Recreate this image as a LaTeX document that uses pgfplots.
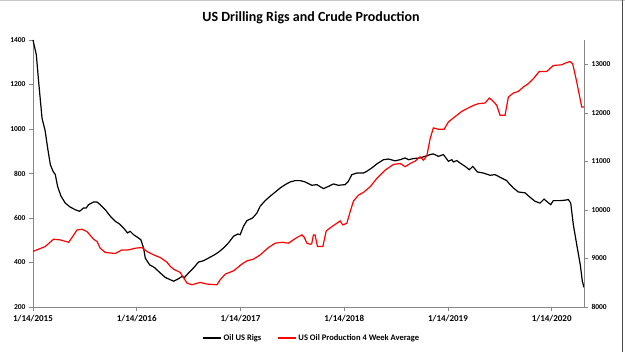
\documentclass[border=0pt]{standalone}
\usepackage{fontspec}
\setmainfont{Carlito}
\usepackage{pgfplots}
\pgfplotsset{compat=1.18}
\definecolor{axisgray}{HTML}{868686}
\definecolor{prodred}{HTML}{FF0000}

\pgfplotsset{
  base/.style={
    scale only axis, width=551pt, height=267pt,
    at={(33pt,45pt)}, anchor=south west,
    xmin=0, xmax=5.311,
    axis line style={axisgray, line width=0.6pt},
    tick style={axisgray, line width=0.6pt},
    tick align=outside, major tick length=4pt,
    /pgf/number format/assume math mode=true,
    /pgf/number format/1000 sep={},
    scaled y ticks=false,
    clip=false,
  }
}

\begin{document}
\begin{tikzpicture}[x=1pt,y=1pt]
\path[use as bounding box] (0,0) rectangle (625,352);
\fill[white] (0,0) rectangle (625,352);
\draw[gray!45, line width=0.8pt] (0,351.6) -- (625,351.6);
\draw[black!70, line width=1.6pt] (622.5,0) -- (622.5,352);
\node[font=\bfseries\fontsize{14}{16}\selectfont] at (311,334) {US Drilling Rigs and Crude Production};

% Oil rig count (left axis)
\begin{axis}[base,
  axis x line*=bottom, axis y line*=left,
  ymin=200, ymax=1400, ytick={200,400,...,1400},
  xtick={0,1,2,3,4,5},
  xticklabels={1/14/2015,1/14/2016,1/14/2017,1/14/2018,1/14/2019,1/14/2020},
  x tick label style={font=\bfseries\fontsize{9}{10}\selectfont, yshift=-1pt},
  y tick label style={font=\bfseries\fontsize{7.5}{9}\selectfont},
]
\addplot[black, line width=1.2pt] table[x=t, y=v] {
t v
0.000 1400
0.032 1334
0.054 1214
0.087 1049
0.118 990
0.141 915
0.167 840
0.193 810
0.215 795
0.237 742
0.270 698
0.311 667
0.359 649
0.408 637
0.449 630
0.487 645
0.513 645
0.536 660
0.584 672
0.617 672
0.648 660
0.697 637
0.745 608
0.793 585
0.834 573
0.873 555
0.911 533
0.937 540
0.969 525
1.008 513
1.040 502
1.066 465
1.082 420
1.123 390
1.169 378
1.226 353
1.275 333
1.316 324
1.355 316
1.403 327
1.435 337
1.461 333
1.499 353
1.547 375
1.595 402
1.644 408
1.692 420
1.740 432
1.788 446
1.836 465
1.884 488
1.933 518
1.975 528
1.997 525
2.029 563
2.062 588
2.116 600
2.158 622
2.190 653
2.238 678
2.286 698
2.334 716
2.383 735
2.431 750
2.479 762
2.527 768
2.575 768
2.624 762
2.688 747
2.736 750
2.800 732
2.848 742
2.896 753
2.944 747
3.009 750
3.040 765
3.073 795
3.121 802
3.185 802
3.218 810
3.266 825
3.314 843
3.378 862
3.426 865
3.490 857
3.539 862
3.587 870
3.619 862
3.667 867
3.731 870
3.779 877
3.828 885
3.859 888
3.908 877
3.956 885
4.004 855
4.037 862
4.052 852
4.085 858
4.116 847
4.165 832
4.206 817
4.239 832
4.283 807
4.341 802
4.406 792
4.454 795
4.502 783
4.566 768
4.598 750
4.630 735
4.678 717
4.743 713
4.791 693
4.839 675
4.887 667
4.926 685
4.958 672
4.990 660
5.015 678
5.080 678
5.128 680
5.160 683
5.183 667
5.208 570
5.241 480
5.275 390
5.295 316
5.311 288
};
\end{axis}

% Crude production, 4-week average (right axis)
\begin{axis}[base,
  axis x line=none, axis y line*=right,
  ymin=8000, ymax=13500, ytick={8000,9000,...,13000},
  y tick label style={font=\bfseries\fontsize{7.5}{9}\selectfont},
  legend columns=2,
  legend style={at={(0.506,-0.116)}, anchor=center, draw=none, fill=none,
    font=\bfseries\fontsize{8.5}{10}\selectfont,
    /tikz/every even column/.append style={column sep=14pt},
    inner sep=0pt},
  legend image code/.code={\draw[#1] (0pt,0pt) -- (18pt,0pt);},
]
\addlegendimage{black, line width=1.2pt}
\addlegendentry{Oil US Rigs}
\addplot[prodred, line width=1.2pt] table[x=t, y=v] {
t v
0.000 9144
0.054 9191
0.118 9246
0.198 9396
0.263 9382
0.343 9334
0.376 9431
0.424 9587
0.472 9601
0.520 9554
0.584 9396
0.617 9349
0.648 9211
0.697 9123
0.793 9102
0.857 9176
0.921 9176
0.986 9211
1.050 9225
1.098 9144
1.162 9074
1.226 9020
1.291 8924
1.323 8836
1.355 8780
1.419 8712
1.484 8493
1.532 8458
1.612 8507
1.676 8472
1.773 8458
1.804 8561
1.853 8677
1.933 8745
2.013 8883
2.062 8950
2.125 8985
2.190 9074
2.270 9225
2.334 9314
2.399 9334
2.462 9314
2.543 9431
2.592 9484
2.614 9437
2.640 9314
2.672 9293
2.686 9300
2.703 9484
2.719 9484
2.742 9246
2.794 9246
2.826 9567
2.881 9656
2.961 9772
2.986 9690
3.025 9725
3.057 9964
3.089 10182
3.137 10305
3.185 10361
3.250 10478
3.314 10648
3.394 10819
3.474 10936
3.539 10956
3.587 10889
3.635 10956
3.683 11004
3.731 11094
3.763 11024
3.796 11114
3.828 11470
3.859 11689
3.908 11661
3.963 11661
4.004 11812
4.052 11894
4.133 12030
4.181 12085
4.245 12153
4.293 12188
4.357 12202
4.399 12305
4.437 12235
4.470 12153
4.502 11948
4.550 11948
4.582 12326
4.630 12408
4.678 12441
4.726 12531
4.774 12599
4.823 12702
4.880 12852
4.952 12852
5.015 12975
5.096 12989
5.138 13030
5.176 13057
5.202 13009
5.241 12633
5.289 12120
5.311 12120
};
\addlegendentry{US Oil Production 4 Week Average}
\end{axis}
\end{tikzpicture}
\end{document}
